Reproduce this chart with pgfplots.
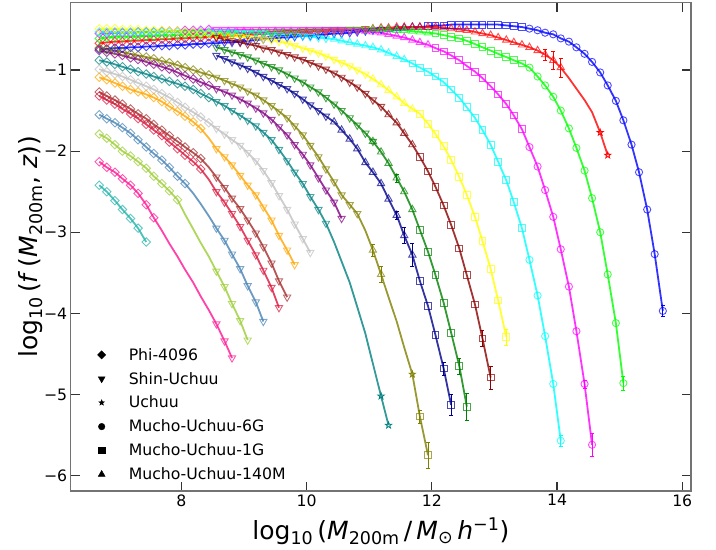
\documentclass[border=0pt]{standalone}
\usepackage{fontspec}
\setmainfont{DejaVu Sans}
\usepackage{pgfplots}
\usepackage{pgfplotstable}
\pgfplotsset{compat=1.18}
\usetikzlibrary{plotmarks}

\definecolor{cBlue}{HTML}{0000FF}
\definecolor{cRed}{HTML}{FF0000}
\definecolor{cLime}{HTML}{00FF00}
\definecolor{cMag}{HTML}{FF00FF}
\definecolor{cCyan}{HTML}{00FFFF}
\definecolor{cYellow}{HTML}{FFFF00}
\definecolor{cMaroon}{HTML}{8B0000}
\definecolor{cGreen}{HTML}{008000}
\definecolor{cNavy}{HTML}{00008B}
\definecolor{cOlive}{HTML}{808000}
\definecolor{cPurple}{HTML}{800080}
\definecolor{cTeal}{HTML}{008080}
\definecolor{cSilver}{HTML}{C0C0C0}
\definecolor{cOrange}{HTML}{FFA500}
\definecolor{cBrown}{HTML}{A52A2A}
\definecolor{cCrim}{HTML}{DC143C}
\definecolor{cSteel}{HTML}{4682B4}
\definecolor{cYG}{HTML}{9ACD32}
\definecolor{cPink}{HTML}{FF1493}
\definecolor{cTurq}{HTML}{20B2AA}

% five-pointed star, open and filled
\pgfdeclareplotmark{ostar}{%
  \pgfpathmoveto{\pgfqpointpolar{90}{\pgfplotmarksize}}%
  \pgfpathlineto{\pgfqpointpolar{126}{0.4\pgfplotmarksize}}%
  \pgfpathlineto{\pgfqpointpolar{162}{\pgfplotmarksize}}%
  \pgfpathlineto{\pgfqpointpolar{198}{0.4\pgfplotmarksize}}%
  \pgfpathlineto{\pgfqpointpolar{234}{\pgfplotmarksize}}%
  \pgfpathlineto{\pgfqpointpolar{270}{0.4\pgfplotmarksize}}%
  \pgfpathlineto{\pgfqpointpolar{306}{\pgfplotmarksize}}%
  \pgfpathlineto{\pgfqpointpolar{342}{0.4\pgfplotmarksize}}%
  \pgfpathlineto{\pgfqpointpolar{18}{\pgfplotmarksize}}%
  \pgfpathlineto{\pgfqpointpolar{54}{0.4\pgfplotmarksize}}%
  \pgfpathclose\pgfusepathqstroke}
\pgfdeclareplotmark{fstar}{%
  \pgfpathmoveto{\pgfqpointpolar{90}{\pgfplotmarksize}}%
  \pgfpathlineto{\pgfqpointpolar{126}{0.4\pgfplotmarksize}}%
  \pgfpathlineto{\pgfqpointpolar{162}{\pgfplotmarksize}}%
  \pgfpathlineto{\pgfqpointpolar{198}{0.4\pgfplotmarksize}}%
  \pgfpathlineto{\pgfqpointpolar{234}{\pgfplotmarksize}}%
  \pgfpathlineto{\pgfqpointpolar{270}{0.4\pgfplotmarksize}}%
  \pgfpathlineto{\pgfqpointpolar{306}{\pgfplotmarksize}}%
  \pgfpathlineto{\pgfqpointpolar{342}{0.4\pgfplotmarksize}}%
  \pgfpathlineto{\pgfqpointpolar{18}{\pgfplotmarksize}}%
  \pgfpathlineto{\pgfqpointpolar{54}{0.4\pgfplotmarksize}}%
  \pgfpathclose\pgfusepathqfillstroke}

\pgfplotsset{
  dia/.style={only marks, mark=square, mark size=3.0bp, mark options={rotate=45, line width=0.9bp, draw opacity=0.7}},
  tdn/.style={only marks, mark=triangle, mark size=4.2bp, mark options={rotate=180, line width=0.9bp, draw opacity=0.7}},
  tup/.style={only marks, mark=triangle, mark size=4.2bp, mark options={line width=0.9bp, draw opacity=0.7}},
  sq/.style={only marks, mark=square, mark size=3.4bp, mark options={line width=0.9bp, draw opacity=0.7}},
  cir/.style={only marks, mark=o, mark size=3.6bp, mark options={line width=0.9bp, draw opacity=0.7}},
  str/.style={only marks, mark=ostar, mark size=3.3bp, mark options={line width=0.8bp}},
}
\newcommand\crv[2]{\addplot[draw=#1, line width=1.8bp, draw opacity=0.8, mark=none] table {#2};}
\newcommand\mk[4]{\addplot[#1, color=#2, restrict x to domain=#3] table {#4};}
\newcommand\eb[2]{\addplot[draw=none, mark=none, color=#1, error bars/.cd, y dir=both, y explicit, error bar style={draw=#1, line width=0.9bp}] coordinates {#2};}

% ---- data: log10 M, log10 f ----
\pgfplotstableread[row sep=\\]{x y\\
6.69 -0.74\\ 6.81 -0.74\\ 6.94 -0.73\\ 7.06 -0.73\\ 7.19 -0.72\\ 7.31 -0.72\\ 7.44 -0.71\\ 7.56 -0.71\\ 7.69 -0.70\\ 7.81 -0.70\\
7.94 -0.69\\ 8.06 -0.69\\ 8.19 -0.68\\ 8.31 -0.68\\ 8.44 -0.67\\ 8.56 -0.67\\ 8.69 -0.66\\ 8.81 -0.66\\ 8.94 -0.65\\ 9.06 -0.64\\
9.19 -0.63\\ 9.31 -0.62\\ 9.44 -0.61\\ 9.56 -0.60\\ 9.69 -0.60\\ 9.81 -0.59\\ 9.94 -0.58\\ 10.06 -0.58\\ 10.19 -0.57\\ 10.31 -0.56\\
10.44 -0.55\\ 10.56 -0.55\\ 10.69 -0.54\\ 10.81 -0.53\\ 10.94 -0.52\\ 11.06 -0.51\\ 11.19 -0.50\\ 11.31 -0.50\\ 11.44 -0.49\\ 11.56 -0.48\\
11.69 -0.47\\ 11.81 -0.47\\ 11.94 -0.46\\ 12.06 -0.45\\ 12.19 -0.45\\ 12.31 -0.44\\ 12.44 -0.44\\ 12.56 -0.44\\ 12.69 -0.44\\ 12.81 -0.44\\
12.94 -0.44\\ 13.06 -0.44\\ 13.19 -0.45\\ 13.31 -0.46\\ 13.44 -0.47\\ 13.56 -0.49\\ 13.69 -0.51\\ 13.81 -0.54\\ 13.94 -0.56\\ 14.06 -0.61\\
14.19 -0.65\\ 14.31 -0.72\\ 14.44 -0.80\\ 14.56 -0.90\\ 14.69 -1.03\\ 14.81 -1.19\\ 14.94 -1.38\\ 15.06 -1.62\\ 15.19 -1.92\\ 15.31 -2.26\\
15.44 -2.72\\ 15.56 -3.27\\ 15.69 -3.97\\
}\dBlue
\pgfplotstableread[row sep=\\]{x y\\
6.69 -0.67\\ 6.81 -0.66\\ 6.94 -0.65\\ 7.06 -0.65\\ 7.19 -0.64\\ 7.31 -0.64\\ 7.44 -0.63\\ 7.56 -0.63\\ 7.69 -0.62\\ 7.81 -0.62\\
7.94 -0.61\\ 8.06 -0.61\\ 8.19 -0.60\\ 8.31 -0.60\\ 8.44 -0.59\\ 8.56 -0.59\\ 8.69 -0.58\\ 8.81 -0.58\\ 8.94 -0.57\\ 9.06 -0.57\\
9.19 -0.56\\ 9.31 -0.56\\ 9.44 -0.55\\ 9.56 -0.55\\ 9.69 -0.54\\ 9.81 -0.54\\ 9.94 -0.53\\ 10.06 -0.53\\ 10.19 -0.52\\ 10.31 -0.52\\
10.44 -0.51\\ 10.56 -0.51\\ 10.69 -0.50\\ 10.81 -0.50\\ 10.94 -0.49\\ 11.06 -0.49\\ 11.19 -0.48\\ 11.31 -0.48\\ 11.44 -0.47\\ 11.56 -0.47\\
11.69 -0.47\\ 11.81 -0.47\\ 11.94 -0.47\\ 12.06 -0.47\\ 12.19 -0.48\\ 12.31 -0.49\\ 12.44 -0.50\\ 12.56 -0.51\\ 12.69 -0.53\\ 12.81 -0.55\\
12.94 -0.57\\ 13.06 -0.60\\ 13.19 -0.63\\ 13.31 -0.66\\ 13.44 -0.69\\ 13.56 -0.72\\ 13.69 -0.76\\ 13.81 -0.81\\ 13.94 -0.88\\ 14.06 -0.97\\
14.19 -1.10\\ 14.31 -1.23\\ 14.44 -1.37\\ 14.56 -1.52\\ 14.69 -1.77\\ 14.81 -2.05\\
}\dRed
\pgfplotstableread[row sep=\\]{x y\\
6.69 -0.61\\ 6.81 -0.60\\ 6.94 -0.59\\ 7.06 -0.59\\ 7.19 -0.59\\ 7.31 -0.58\\ 7.44 -0.58\\ 7.56 -0.58\\ 7.69 -0.57\\ 7.81 -0.57\\
7.94 -0.57\\ 8.06 -0.56\\ 8.19 -0.56\\ 8.31 -0.56\\ 8.44 -0.55\\ 8.56 -0.55\\ 8.69 -0.55\\ 8.81 -0.54\\ 8.94 -0.54\\ 9.06 -0.54\\
9.19 -0.53\\ 9.31 -0.53\\ 9.44 -0.53\\ 9.56 -0.52\\ 9.69 -0.52\\ 9.81 -0.52\\ 9.94 -0.51\\ 10.06 -0.51\\ 10.19 -0.51\\ 10.31 -0.50\\
10.44 -0.50\\ 10.56 -0.50\\ 10.69 -0.50\\ 10.81 -0.50\\ 10.94 -0.50\\ 11.06 -0.50\\ 11.19 -0.50\\ 11.31 -0.50\\ 11.44 -0.51\\ 11.56 -0.51\\
11.69 -0.52\\ 11.81 -0.53\\ 11.94 -0.54\\ 12.06 -0.55\\ 12.19 -0.57\\ 12.31 -0.59\\ 12.44 -0.61\\ 12.56 -0.64\\ 12.69 -0.68\\ 12.81 -0.72\\
12.94 -0.76\\ 13.06 -0.80\\ 13.19 -0.84\\ 13.31 -0.88\\ 13.44 -0.92\\ 13.56 -0.97\\ 13.69 -1.08\\ 13.81 -1.19\\ 13.94 -1.33\\ 14.06 -1.50\\
14.19 -1.72\\ 14.31 -1.96\\ 14.44 -2.24\\ 14.56 -2.58\\ 14.69 -3.00\\ 14.81 -3.52\\ 14.94 -4.12\\ 15.06 -4.86\\
}\dLime
\pgfplotstableread[row sep=\\]{x y\\
6.69 -0.55\\ 6.81 -0.55\\ 6.94 -0.54\\ 7.06 -0.54\\ 7.19 -0.54\\ 7.31 -0.53\\ 7.44 -0.53\\ 7.56 -0.53\\ 7.69 -0.52\\ 7.81 -0.52\\
7.94 -0.52\\ 8.06 -0.51\\ 8.19 -0.51\\ 8.31 -0.51\\ 8.44 -0.50\\ 8.56 -0.50\\ 8.69 -0.50\\ 8.81 -0.50\\ 8.94 -0.50\\ 9.06 -0.50\\
9.19 -0.50\\ 9.31 -0.50\\ 9.44 -0.50\\ 9.56 -0.50\\ 9.69 -0.50\\ 9.81 -0.50\\ 9.94 -0.50\\ 10.06 -0.50\\ 10.19 -0.50\\ 10.31 -0.50\\
10.44 -0.50\\ 10.56 -0.50\\ 10.69 -0.51\\ 10.81 -0.51\\ 10.94 -0.52\\ 11.06 -0.53\\ 11.19 -0.54\\ 11.31 -0.56\\ 11.44 -0.58\\ 11.56 -0.60\\
11.69 -0.63\\ 11.81 -0.66\\ 11.94 -0.69\\ 12.06 -0.73\\ 12.19 -0.77\\ 12.31 -0.82\\ 12.44 -0.88\\ 12.56 -0.95\\ 12.69 -1.02\\ 12.81 -1.10\\
12.94 -1.20\\ 13.06 -1.30\\ 13.19 -1.42\\ 13.31 -1.56\\ 13.44 -1.73\\ 13.56 -1.95\\ 13.69 -2.19\\ 13.81 -2.48\\ 13.94 -2.81\\ 14.06 -3.21\\
14.19 -3.67\\ 14.31 -4.22\\ 14.44 -4.87\\ 14.56 -5.62\\
}\dMag
\pgfplotstableread[row sep=\\]{x y\\
6.69 -0.53\\ 6.81 -0.53\\ 6.94 -0.53\\ 7.06 -0.53\\ 7.19 -0.53\\ 7.31 -0.53\\ 7.44 -0.53\\ 7.56 -0.53\\ 7.69 -0.53\\ 7.81 -0.53\\
7.94 -0.53\\ 8.06 -0.53\\ 8.19 -0.53\\ 8.31 -0.53\\ 8.44 -0.53\\ 8.56 -0.53\\ 8.69 -0.53\\ 8.81 -0.53\\ 8.94 -0.54\\ 9.06 -0.54\\
9.19 -0.55\\ 9.31 -0.55\\ 9.44 -0.56\\ 9.56 -0.56\\ 9.69 -0.57\\ 9.81 -0.57\\ 9.94 -0.58\\ 10.06 -0.59\\ 10.19 -0.60\\ 10.31 -0.61\\
10.44 -0.62\\ 10.56 -0.64\\ 10.69 -0.66\\ 10.81 -0.68\\ 10.94 -0.70\\ 11.06 -0.72\\ 11.19 -0.75\\ 11.31 -0.79\\ 11.44 -0.83\\ 11.56 -0.87\\
11.69 -0.92\\ 11.81 -0.97\\ 11.94 -1.02\\ 12.06 -1.08\\ 12.19 -1.15\\ 12.31 -1.24\\ 12.44 -1.34\\ 12.56 -1.46\\ 12.69 -1.59\\ 12.81 -1.74\\
12.94 -1.92\\ 13.06 -2.13\\ 13.19 -2.36\\ 13.31 -2.63\\ 13.44 -2.95\\ 13.56 -3.34\\ 13.69 -3.78\\ 13.81 -4.28\\ 13.94 -4.87\\ 14.06 -5.57\\
}\dCyan
\pgfplotstableread[row sep=\\]{x y\\
6.69 -0.49\\ 6.81 -0.49\\ 6.94 -0.49\\ 7.06 -0.50\\ 7.19 -0.50\\ 7.31 -0.50\\ 7.44 -0.51\\ 7.56 -0.51\\ 7.69 -0.51\\ 7.81 -0.52\\
7.94 -0.52\\ 8.06 -0.53\\ 8.19 -0.53\\ 8.31 -0.54\\ 8.44 -0.55\\ 8.56 -0.56\\ 8.69 -0.57\\ 8.81 -0.58\\ 8.94 -0.59\\ 9.06 -0.60\\
9.19 -0.61\\ 9.31 -0.62\\ 9.44 -0.63\\ 9.56 -0.65\\ 9.69 -0.67\\ 9.81 -0.70\\ 9.94 -0.73\\ 10.06 -0.76\\ 10.19 -0.79\\ 10.31 -0.83\\
10.44 -0.87\\ 10.56 -0.91\\ 10.69 -0.95\\ 10.81 -1.00\\ 10.94 -1.05\\ 11.06 -1.11\\ 11.19 -1.18\\ 11.31 -1.25\\ 11.44 -1.33\\ 11.56 -1.41\\
11.69 -1.48\\ 11.81 -1.54\\ 11.94 -1.66\\ 12.06 -1.79\\ 12.19 -1.94\\ 12.31 -2.11\\ 12.44 -2.32\\ 12.56 -2.54\\ 12.69 -2.81\\ 12.81 -3.11\\
12.94 -3.45\\ 13.06 -3.84\\ 13.19 -4.29\\
}\dYellow
\pgfplotstableread[row sep=\\]{x y\\
8.56 -0.60\\ 8.69 -0.62\\ 8.81 -0.64\\ 8.94 -0.66\\ 9.06 -0.68\\ 9.19 -0.70\\ 9.31 -0.73\\ 9.44 -0.75\\ 9.56 -0.78\\ 9.69 -0.81\\
9.81 -0.84\\ 9.94 -0.87\\ 10.06 -0.91\\ 10.19 -0.95\\ 10.31 -0.99\\ 10.44 -1.04\\ 10.56 -1.09\\ 10.69 -1.15\\ 10.81 -1.21\\ 10.94 -1.29\\
11.06 -1.37\\ 11.19 -1.45\\ 11.31 -1.55\\ 11.44 -1.65\\ 11.56 -1.78\\ 11.69 -1.92\\ 11.81 -2.07\\ 11.94 -2.25\\ 12.06 -2.44\\ 12.19 -2.67\\
12.31 -2.91\\ 12.44 -3.20\\ 12.56 -3.53\\ 12.69 -3.89\\ 12.81 -4.31\\ 12.94 -4.79\\
}\dMaroon
\pgfplotstableread[row sep=\\]{x y\\
8.56 -0.72\\ 8.69 -0.75\\ 8.81 -0.78\\ 8.94 -0.81\\ 9.06 -0.84\\ 9.19 -0.88\\ 9.31 -0.92\\ 9.44 -0.96\\ 9.56 -1.00\\ 9.69 -1.05\\
9.81 -1.10\\ 9.94 -1.15\\ 10.06 -1.21\\ 10.19 -1.27\\ 10.31 -1.34\\ 10.44 -1.42\\ 10.56 -1.50\\ 10.69 -1.59\\ 10.81 -1.68\\ 10.94 -1.78\\
11.06 -1.88\\ 11.19 -2.01\\ 11.31 -2.15\\ 11.44 -2.33\\ 11.56 -2.50\\ 11.69 -2.72\\ 11.81 -2.97\\ 11.94 -3.24\\ 12.06 -3.53\\ 12.19 -3.87\\
12.31 -4.24\\ 12.44 -4.65\\ 12.56 -5.15\\
}\dGreen
\pgfplotstableread[row sep=\\]{x y\\
8.56 -0.82\\ 8.69 -0.86\\ 8.81 -0.90\\ 8.94 -0.94\\ 9.06 -0.98\\ 9.19 -1.03\\ 9.31 -1.08\\ 9.44 -1.13\\ 9.56 -1.18\\ 9.69 -1.23\\
9.81 -1.29\\ 9.94 -1.36\\ 10.06 -1.43\\ 10.19 -1.50\\ 10.31 -1.57\\ 10.44 -1.64\\ 10.56 -1.74\\ 10.69 -1.85\\ 10.81 -1.97\\ 10.94 -2.14\\
11.06 -2.26\\ 11.19 -2.40\\ 11.31 -2.59\\ 11.44 -2.79\\ 11.56 -3.04\\ 11.69 -3.28\\ 11.81 -3.60\\ 11.94 -3.91\\ 12.06 -4.27\\ 12.19 -4.68\\
12.31 -5.13\\
}\dNavy
\pgfplotstableread[row sep=\\]{x y\\
6.69 -0.73\\ 6.81 -0.75\\ 6.94 -0.76\\ 7.06 -0.78\\ 7.19 -0.80\\ 7.31 -0.82\\ 7.44 -0.84\\ 7.56 -0.86\\ 7.69 -0.89\\ 7.81 -0.91\\
7.94 -0.94\\ 8.06 -0.97\\ 8.19 -1.00\\ 8.31 -1.03\\ 8.44 -1.06\\ 8.56 -1.09\\ 8.69 -1.13\\ 8.81 -1.17\\ 8.94 -1.21\\ 9.06 -1.26\\
9.19 -1.31\\ 9.31 -1.37\\ 9.44 -1.44\\ 9.56 -1.51\\ 9.69 -1.59\\ 9.81 -1.69\\ 9.94 -1.80\\ 10.06 -1.93\\ 10.19 -2.07\\ 10.31 -2.22\\
10.44 -2.38\\ 10.56 -2.54\\ 10.69 -2.66\\ 10.81 -2.77\\ 10.94 -2.98\\ 11.06 -3.22\\ 11.19 -3.52\\ 11.31 -3.80\\ 11.44 -4.10\\ 11.56 -4.42\\
11.69 -4.75\\ 11.81 -5.27\\ 11.94 -5.75\\
}\dOlive
\pgfplotstableread[row sep=\\]{x y\\
6.69 -0.76\\ 6.81 -0.78\\ 6.94 -0.80\\ 7.06 -0.82\\ 7.19 -0.85\\ 7.31 -0.87\\ 7.44 -0.90\\ 7.56 -0.93\\ 7.69 -0.96\\ 7.81 -0.99\\
7.94 -1.03\\ 8.06 -1.07\\ 8.19 -1.11\\ 8.31 -1.15\\ 8.44 -1.19\\ 8.56 -1.23\\ 8.69 -1.27\\ 8.81 -1.31\\ 8.94 -1.36\\ 9.06 -1.41\\
9.19 -1.47\\ 9.31 -1.53\\ 9.44 -1.61\\ 9.56 -1.70\\ 9.69 -1.80\\ 9.81 -1.92\\ 9.94 -2.04\\ 10.06 -2.17\\ 10.19 -2.33\\ 10.31 -2.48\\
10.44 -2.63\\ 10.56 -2.83\\
}\dPurple
\pgfplotstableread[row sep=\\]{x y\\
6.69 -0.88\\ 6.81 -0.90\\ 6.94 -0.93\\ 7.06 -0.96\\ 7.19 -0.99\\ 7.31 -1.02\\ 7.44 -1.05\\ 7.56 -1.08\\ 7.69 -1.11\\ 7.81 -1.14\\
7.94 -1.17\\ 8.06 -1.20\\ 8.19 -1.24\\ 8.31 -1.29\\ 8.44 -1.34\\ 8.56 -1.39\\ 8.69 -1.44\\ 8.81 -1.50\\ 8.94 -1.56\\ 9.06 -1.62\\
9.19 -1.69\\ 9.31 -1.77\\ 9.44 -1.86\\ 9.56 -1.98\\ 9.69 -2.12\\ 9.81 -2.26\\ 9.94 -2.40\\ 10.06 -2.56\\ 10.19 -2.72\\ 10.31 -2.89\\
10.44 -3.12\\ 10.56 -3.36\\ 10.69 -3.62\\ 10.81 -3.92\\ 10.94 -4.25\\ 11.06 -4.62\\ 11.19 -5.02\\ 11.31 -5.38\\
}\dTeal
\pgfplotstableread[row sep=\\]{x y\\
6.69 -0.99\\ 6.81 -1.02\\ 6.94 -1.05\\ 7.06 -1.08\\ 7.19 -1.12\\ 7.31 -1.16\\ 7.44 -1.20\\ 7.56 -1.24\\ 7.69 -1.29\\ 7.81 -1.34\\
7.94 -1.40\\ 8.06 -1.46\\ 8.19 -1.52\\ 8.31 -1.58\\ 8.44 -1.65\\ 8.56 -1.72\\ 8.69 -1.79\\ 8.81 -1.86\\ 8.94 -1.93\\ 9.06 -2.02\\
9.19 -2.12\\ 9.31 -2.24\\ 9.44 -2.39\\ 9.56 -2.55\\ 9.69 -2.72\\ 9.81 -2.90\\ 9.94 -3.08\\ 10.06 -3.25\\
}\dSilver
\pgfplotstableread[row sep=\\]{x y\\
6.69 -1.09\\ 6.81 -1.12\\ 6.94 -1.16\\ 7.06 -1.20\\ 7.19 -1.24\\ 7.31 -1.27\\ 7.44 -1.30\\ 7.56 -1.34\\ 7.69 -1.39\\ 7.81 -1.45\\
7.94 -1.51\\ 8.06 -1.57\\ 8.19 -1.64\\ 8.31 -1.72\\ 8.44 -1.84\\ 8.56 -1.97\\ 8.69 -2.07\\ 8.81 -2.17\\ 8.94 -2.30\\ 9.06 -2.42\\
9.19 -2.54\\ 9.31 -2.69\\ 9.44 -2.85\\ 9.56 -3.04\\ 9.69 -3.22\\ 9.81 -3.40\\
}\dOrange
\pgfplotstableread[row sep=\\]{x y\\
6.69 -1.27\\ 6.81 -1.32\\ 6.94 -1.37\\ 7.06 -1.42\\ 7.19 -1.48\\ 7.31 -1.54\\ 7.44 -1.60\\ 7.56 -1.67\\ 7.69 -1.74\\ 7.81 -1.81\\
7.94 -1.88\\ 8.06 -1.95\\ 8.19 -2.02\\ 8.31 -2.09\\ 8.44 -2.20\\ 8.56 -2.32\\ 8.69 -2.45\\ 8.81 -2.58\\ 8.94 -2.71\\ 9.06 -2.85\\
9.19 -3.01\\ 9.31 -3.18\\ 9.44 -3.38\\ 9.56 -3.60\\ 9.69 -3.80\\
}\dBrown
\pgfplotstableread[row sep=\\]{x y\\
6.69 -1.32\\ 6.81 -1.37\\ 6.94 -1.42\\ 7.06 -1.48\\ 7.19 -1.54\\ 7.31 -1.60\\ 7.44 -1.67\\ 7.56 -1.74\\ 7.69 -1.81\\ 7.81 -1.89\\
7.94 -1.97\\ 8.06 -2.05\\ 8.19 -2.13\\ 8.31 -2.22\\ 8.44 -2.35\\ 8.56 -2.50\\ 8.69 -2.63\\ 8.81 -2.77\\ 8.94 -2.93\\ 9.06 -3.10\\
9.19 -3.28\\ 9.31 -3.47\\ 9.44 -3.68\\ 9.56 -3.93\\
}\dCrim
\pgfplotstableread[row sep=\\]{x y\\
6.69 -1.55\\ 6.81 -1.60\\ 6.94 -1.65\\ 7.06 -1.71\\ 7.19 -1.78\\ 7.31 -1.86\\ 7.44 -1.95\\ 7.56 -2.03\\ 7.69 -2.11\\ 7.81 -2.20\\
7.94 -2.31\\ 8.06 -2.40\\ 8.19 -2.52\\ 8.31 -2.65\\ 8.44 -2.80\\ 8.56 -2.95\\ 8.69 -3.10\\ 8.81 -3.27\\ 8.94 -3.45\\ 9.06 -3.66\\
9.19 -3.86\\ 9.31 -4.10\\
}\dSteel
\pgfplotstableread[row sep=\\]{x y\\
6.69 -1.79\\ 6.81 -1.84\\ 6.94 -1.92\\ 7.06 -2.00\\ 7.19 -2.06\\ 7.31 -2.13\\ 7.44 -2.21\\ 7.56 -2.31\\ 7.69 -2.40\\ 7.81 -2.49\\
7.94 -2.60\\ 8.06 -2.78\\ 8.19 -2.96\\ 8.31 -3.13\\ 8.44 -3.30\\ 8.56 -3.48\\ 8.69 -3.67\\ 8.81 -3.88\\ 8.94 -4.09\\ 9.06 -4.33\\
}\dYG
\pgfplotstableread[row sep=\\]{x y\\
6.69 -2.13\\ 6.81 -2.20\\ 6.94 -2.26\\ 7.06 -2.34\\ 7.19 -2.42\\ 7.31 -2.52\\ 7.44 -2.66\\ 7.56 -2.82\\ 7.69 -2.98\\ 7.81 -3.14\\
7.94 -3.30\\ 8.06 -3.46\\ 8.19 -3.62\\ 8.31 -3.79\\ 8.44 -3.96\\ 8.56 -4.13\\ 8.69 -4.34\\ 8.81 -4.55\\
}\dPink
\pgfplotstableread[row sep=\\]{x y\\
6.69 -2.42\\ 6.81 -2.50\\ 6.94 -2.61\\ 7.06 -2.72\\ 7.19 -2.83\\ 7.31 -2.95\\ 7.44 -3.12\\
}\dTurq

\begin{document}
\begin{tikzpicture}
\path[use as bounding box] (0,0) rectangle (716bp,550bp);
\begin{axis}[
  at={(70.7bp,59bp)}, anchor=south west,
  scale only axis, width=620.3bp, height=488.3bp,
  xmin=6.234, xmax=16.14, ymin=-6.19, ymax=-0.17,
  xtick={8,10,12,14,16}, xticklabels={8,10,12,14,16},
  ytick={-6,-5,-4,-3,-2,-1}, yticklabels={−6,−5,−4,−3,−2,−1},
  tick align=inside, tick pos=both, major tick length=9bp,
  every tick/.style={black!80, line width=1.1bp},
  axis line style={black!55, line width=1.2bp},
  ticklabel style={font=\fontsize{15.7bp}{18bp}\selectfont},
  label style={font=\fontsize{25bp}{30bp}\selectfont},
  xlabel={log\textsubscript{10}\,(\textit{M}\textsubscript{200m}\,/\,\textit{M}\textsubscript{⊙}\,\textit{h}\textsuperscript{−1})},
  ylabel={log\textsubscript{10}\,(\textit{f}\,(\textit{M}\textsubscript{200m}, \textit{z}))},
  xlabel style={at={(axis description cs:0.5,-0.1003)}, anchor=base},
  ylabel style={at={(axis description cs:-0.053,0.5)}, anchor=base},
  legend cell align=left,
  legend style={draw=none, fill=none, at={(0.043,0.297)}, anchor=north west,
    font=\fontsize{15.7bp}{18bp}\selectfont, inner sep=0pt, row sep=6.5bp,
    /tikz/every odd column/.append style={column sep=21bp}},
]
\addlegendimage{only marks, mark=square*, mark size=2.9bp, mark options={rotate=45}, black}
\addlegendimage{only marks, mark=triangle*, mark size=4bp, mark options={rotate=180}, black}
\addlegendimage{only marks, mark=fstar, mark size=3bp, black}
\addlegendimage{only marks, mark=*, mark size=3.3bp, black}
\addlegendimage{only marks, mark=square*, mark size=3.1bp, black}
\addlegendimage{only marks, mark=triangle*, mark size=4bp, black}

% blue
\crv{cBlue}{\dBlue}
\mk{dia}{cBlue}{6.6:8.5}{\dBlue}
\mk{tdn}{cBlue}{8.5:11.2}{\dBlue}
\mk{tup}{cBlue}{11.2:11.9}{\dBlue}
\mk{sq}{cBlue}{11.9:13.5}{\dBlue}
\mk{cir}{cBlue}{13.5:15.7}{\dBlue}
% red
\crv{cRed}{\dRed}
\mk{dia}{cRed}{6.6:8.5}{\dRed}
\mk{tdn}{cRed}{8.5:11.0}{\dRed}
\mk{tup}{cRed}{11.0:14.1}{\dRed}
\mk{str}{cRed}{14.6:14.9}{\dRed}
% lime
\crv{cLime}{\dLime}
\mk{dia}{cLime}{6.6:8.5}{\dLime}
\mk{tdn}{cLime}{8.5:11.0}{\dLime}
\mk{tup}{cLime}{11.0:12.0}{\dLime}
\mk{sq}{cLime}{12.0:13.5}{\dLime}
\mk{cir}{cLime}{13.5:15.1}{\dLime}
% magenta
\crv{cMag}{\dMag}
\mk{dia}{cMag}{6.6:8.5}{\dMag}
\mk{tdn}{cMag}{8.5:10.9}{\dMag}
\mk{tup}{cMag}{10.9:12.0}{\dMag}
\mk{sq}{cMag}{12.0:13.5}{\dMag}
\mk{cir}{cMag}{13.5:14.6}{\dMag}
% cyan
\crv{cCyan}{\dCyan}
\mk{dia}{cCyan}{6.6:8.5}{\dCyan}
\mk{tdn}{cCyan}{8.5:10.35}{\dCyan}
\mk{tup}{cCyan}{10.4:11.6}{\dCyan}
\mk{sq}{cCyan}{11.65:13.5}{\dCyan}
\mk{cir}{cCyan}{13.5:14.1}{\dCyan}
% yellow
\crv{cYellow}{\dYellow}
\mk{dia}{cYellow}{6.6:8.5}{\dYellow}
\mk{tdn}{cYellow}{8.5:11.0}{\dYellow}
\mk{tup}{cYellow}{11.0:11.75}{\dYellow}
\mk{sq}{cYellow}{11.75:13.25}{\dYellow}
% maroon
\crv{cMaroon}{\dMaroon}
\mk{tdn}{cMaroon}{8.5:11.25}{\dMaroon}
\mk{tup}{cMaroon}{11.25:11.75}{\dMaroon}
\mk{sq}{cMaroon}{11.75:13.0}{\dMaroon}
% green
\crv{cGreen}{\dGreen}
\mk{tdn}{cGreen}{8.5:11.1}{\dGreen}
\mk{tup}{cGreen}{10.95:11.75}{\dGreen}
\mk{sq}{cGreen}{11.75:12.6}{\dGreen}
% navy
\crv{cNavy}{\dNavy}
\mk{tdn}{cNavy}{8.5:10.35}{\dNavy}
\mk{tup}{cNavy}{10.4:11.75}{\dNavy}
\mk{sq}{cNavy}{11.75:12.35}{\dNavy}
% olive
\crv{cOlive}{\dOlive}
\mk{dia}{cOlive}{6.6:8.5}{\dOlive}
\mk{tdn}{cOlive}{8.5:10.85}{\dOlive}
\mk{tup}{cOlive}{11.0:11.25}{\dOlive}
\mk{str}{cOlive}{11.6:11.75}{\dOlive}
\mk{sq}{cOlive}{11.75:12.0}{\dOlive}
% purple
\crv{cPurple}{\dPurple}
\mk{dia}{cPurple}{6.6:8.5}{\dPurple}
\mk{tdn}{cPurple}{8.5:10.6}{\dPurple}
% teal
\crv{cTeal}{\dTeal}
\mk{dia}{cTeal}{6.6:8.5}{\dTeal}
\mk{tdn}{cTeal}{8.5:10.35}{\dTeal}
\mk{str}{cTeal}{11.1:11.4}{\dTeal}
% silver
\crv{cSilver}{\dSilver}
\mk{dia}{cSilver}{6.6:8.5}{\dSilver}
\mk{tdn}{cSilver}{8.5:10.1}{\dSilver}
% orange
\crv{cOrange}{\dOrange}
\mk{dia}{cOrange}{6.6:8.35}{\dOrange}
\mk{tdn}{cOrange}{8.5:9.9}{\dOrange}
% brown
\crv{cBrown}{\dBrown}
\mk{dia}{cBrown}{6.6:8.35}{\dBrown}
\mk{tdn}{cBrown}{8.5:9.7}{\dBrown}
% crimson
\crv{cCrim}{\dCrim}
\mk{dia}{cCrim}{6.6:8.35}{\dCrim}
\mk{tdn}{cCrim}{8.5:9.6}{\dCrim}
% steelblue
\crv{cSteel}{\dSteel}
\mk{dia}{cSteel}{6.6:8.1}{\dSteel}
\mk{tdn}{cSteel}{8.5:9.35}{\dSteel}
% yellowgreen
\crv{cYG}{\dYG}
\mk{dia}{cYG}{6.6:8.0}{\dYG}
\mk{tdn}{cYG}{8.5:9.1}{\dYG}
% deeppink
\crv{cPink}{\dPink}
\mk{dia}{cPink}{6.6:7.6}{\dPink}
\mk{tdn}{cPink}{8.5:8.9}{\dPink}
% turquoise
\crv{cTurq}{\dTurq}
\mk{dia}{cTurq}{6.6:7.5}{\dTurq}

% error bars
\eb{cRed}{(13.81,-0.81) +- (0,0.07) (13.94,-0.88) +- (0,0.11) (14.06,-0.97) +- (0,0.12)}
\eb{cOlive}{(11.06,-3.22) +- (0,0.07) (11.19,-3.52) +- (0,0.10) (11.81,-5.27) +- (0,0.08) (11.94,-5.75) +- (0,0.16)}
\eb{cNavy}{(11.44,-2.79) +- (0,0.05) (11.56,-3.04) +- (0,0.10) (11.69,-3.28) +- (0,0.14) (12.19,-4.68) +- (0,0.08) (12.31,-5.13) +- (0,0.13)}
\eb{cGreen}{(11.44,-2.33) +- (0,0.05) (12.44,-4.65) +- (0,0.10) (12.56,-5.15) +- (0,0.17)}
\eb{cMaroon}{(12.81,-4.31) +- (0,0.10) (12.94,-4.79) +- (0,0.14)}
\eb{cYellow}{(13.19,-4.29) +- (0,0.10)}
\eb{cCyan}{(14.06,-5.57) +- (0,0.07)}
\eb{cMag}{(14.44,-4.87) +- (0,0.05) (14.56,-5.62) +- (0,0.14)}
\eb{cLime}{(15.06,-4.86) +- (0,0.09)}
\eb{cBlue}{(15.69,-3.97) +- (0,0.07)}

\legend{Phi-4096, Shin-Uchuu, Uchuu, Mucho-Uchuu-6G, Mucho-Uchuu-1G, Mucho-Uchuu-140M}
\end{axis}
\end{tikzpicture}
\end{document}
